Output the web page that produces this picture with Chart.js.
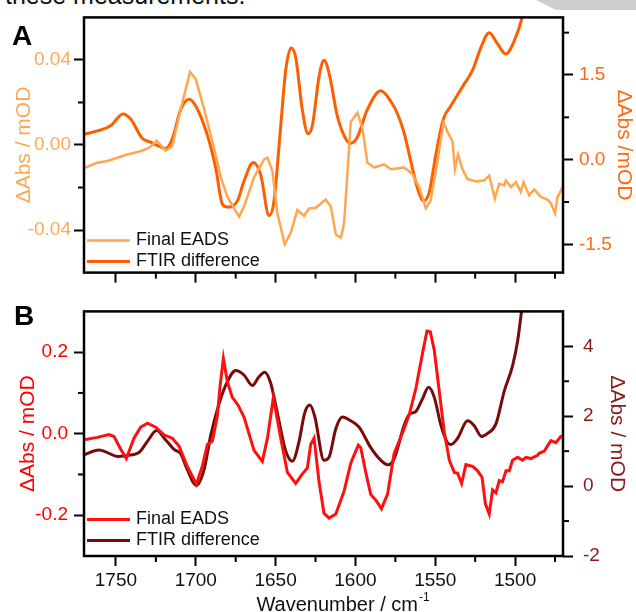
<!DOCTYPE html>
<html>
<head>
<meta charset="utf-8">
<script src="https://cdn.jsdelivr.net/npm/chart.js@4.4.1/dist/chart.umd.min.js"></script>
<style>
  html, body { margin: 0; padding: 0; background: #fff; overflow: hidden; }
  body { width: 636px; height: 612px; position: relative; font-family: "Liberation Sans", Arial, sans-serif; }
  #chartA { position: absolute; left: 0; top: 0; }
  #chartB { position: absolute; left: 0; top: 290px; }
  .cut { position: absolute; left: 5px; top: -17px; font-size: 25px; line-height: 24px; color: #111; white-space: nowrap; }
  .corner { position: absolute; right: 0; top: 0; width: 100px; height: 10px; background: #cfcfcf;
            clip-path: polygon(0 0, 100% 0, 100% 100%, 20% 100%); }
</style>
</head>
<body>
<div class="cut">these measurements.</div>
<div class="corner"></div>
<canvas id="chartA" width="636" height="290"></canvas>
<canvas id="chartB" width="636" height="322"></canvas>
<script>
// Painel A - Final EADS (eixo esquerdo, mOD)
const aEadsWn = [1770, 1761.7, 1755.4, 1749.1, 1742.9, 1734.5, 1729.3, 1724.5, 1718.8, 1714.7, 1709.4, 1703.6, 1700.0,
  1694.8, 1689.6, 1684.3, 1680.2, 1672.9, 1669.8, 1663.5, 1657.2, 1655.1, 1652.0, 1648.9, 1644.3, 1640.5, 1636.4,
  1632.2, 1629.0, 1624.9, 1618.6, 1615.4, 1612.3, 1609.1, 1607.1, 1602.9, 1598.8, 1595.6, 1592.5, 1588.3, 1582.0,
  1577.8, 1569.5, 1564.3, 1560.1, 1555.9, 1552.8, 1548.6, 1544.9, 1542.4, 1539.2, 1537.7, 1535.7, 1533.0, 1529.8,
  1524.6, 1519.4, 1516.2, 1512.7, 1510.0, 1506.8, 1505.8, 1502.6, 1499.5, 1496.4, 1494.7, 1491.2, 1488.0, 1483.8,
  1479.7, 1477.6, 1475.0, 1473.4, 1469.6];
const aEadsVal = [-0.0109, -0.0083, -0.0075, -0.0060, -0.0045, -0.0029, -0.0014, 0.0020, -0.0026, -0.0006, 0.0170, 0.0343, 0.0310,
  0.0170, 0.0017, -0.0152, -0.0244, -0.0337, -0.0290, -0.0152, -0.0068, -0.0060, -0.0121, -0.0321, -0.0467, -0.0413, -0.0306,
  -0.0333, -0.0298, -0.0295, -0.0257, -0.0290, -0.0421, -0.0436, -0.0367, 0.0109, 0.0152, 0.0078, -0.0083, -0.0106, -0.0091,
  -0.0114, -0.0106, -0.0137, -0.0198, -0.0298, -0.0260, -0.0075, 0.0106, 0.0063, 0.0017, -0.0114, -0.0045, -0.0114, -0.0160,
  -0.0171, -0.0167, -0.0144, -0.0252, -0.0183, -0.0190, -0.0167, -0.0198, -0.0175, -0.0221, -0.0175, -0.0236, -0.0210, -0.0244,
  -0.0257, -0.0275, -0.0321, -0.0244, -0.0190];

// Painel A - FTIR difference (eixo direito, mOD)
const aFtirWn = [1770, 1761.7, 1753.3, 1745.6, 1740.8, 1733.5, 1728.3, 1723.1, 1718.8, 1714.7, 1709.4, 1704.2, 1700.0,
  1692.7, 1687.5, 1683.3, 1680.2, 1673.9, 1669.8, 1664.0, 1659.3, 1654.1, 1651.0, 1646.8, 1643.7, 1640.2, 1637.4,
  1633.3, 1629.7, 1627.0, 1622.8, 1619.7, 1616.5, 1611.3, 1606.1, 1602.9, 1598.8, 1592.5, 1584.1, 1577.8, 1573.5,
  1569.5, 1565.3, 1561.2, 1557.4, 1553.8, 1549.7, 1544.9, 1540.3, 1533.0, 1526.7, 1521.4, 1516.2, 1511.0, 1505.8,
  1500.6, 1495.4, 1493.0];
const aFtirVal = [0.45, 0.51, 0.60, 0.81, 0.72, 0.38, 0.31, 0.24, 0.20, 0.37, 0.89, 1.07, 0.95,
  0.43, -0.15, -0.79, -0.84, -0.73, -0.38, -0.05, -0.27, -0.99, -0.73, 0.60, 1.58, 1.98, 1.81,
  0.89, 0.46, 0.60, 1.47, 1.76, 1.53, 0.77, 0.37, 0.29, 0.40, 0.89, 1.22, 1.03, 0.80,
  0.47, -0.03, -0.50, -0.73, -0.58, 0.08, 0.72, 0.95, 1.29, 1.58, 1.99, 2.25, 2.05, 1.87,
  2.10, 2.54, 2.90];

// Painel B - Final EADS (eixo esquerdo, mOD)
const bEadsWn = [1770, 1761.7, 1754.3, 1751.2, 1747.0, 1743.5, 1738.7, 1734.5, 1730.3, 1725.1, 1719.9, 1714.7, 1710.5,
  1705.3, 1699.6, 1695.9, 1692.7, 1689.6, 1686.5, 1684.8, 1682.7, 1680.2, 1677.1, 1673.5, 1669.8, 1663.5, 1658.3,
  1655.1, 1651.4, 1646.8, 1642.6, 1637.4, 1633.3, 1630.1, 1628.0, 1625.9, 1622.8, 1619.7, 1616.5, 1612.3, 1607.1,
  1602.9, 1598.2, 1596.7, 1593.5, 1590.4, 1587.2, 1583.7, 1579.9, 1575.8, 1569.5, 1566.3, 1562.1, 1558.0, 1555.2,
  1553.1, 1550.6, 1547.5, 1544.4, 1541.2, 1538.1, 1536.0, 1533.5, 1530.8, 1526.6, 1523.5, 1520.7, 1518.6, 1516.2,
  1514.1, 1512.0, 1509.9, 1507.9, 1505.7, 1503.6, 1501.6, 1498.4, 1495.3, 1493.2, 1490.1, 1486.0, 1485.0, 1481.8,
  1477.6, 1474.5, 1471.4, 1469.7];
const bEadsVal = [-0.015, -0.009, -0.002, -0.007, -0.038, -0.061, -0.011, 0.016, 0.026, 0.016, -0.003, -0.011, -0.030,
  -0.080, -0.124, -0.080, -0.026, -0.018, 0.043, 0.116, 0.185, 0.127, 0.089, 0.070, 0.041, -0.041, -0.068,
  -0.011, 0.089, -0.011, -0.095, -0.122, -0.099, -0.084, -0.026, -0.011, -0.118, -0.195, -0.207, -0.197, -0.141,
  -0.072, -0.028, -0.034, -0.095, -0.149, -0.163, -0.184, -0.149, -0.049, 0.012, 0.047, 0.112, 0.197, 0.252,
  0.250, 0.204, 0.104, 0.005, -0.065, -0.095, -0.097, -0.122, -0.076, -0.080, -0.091, -0.107, -0.172, -0.197,
  -0.138, -0.145, -0.115, -0.118, -0.091, -0.091, -0.065, -0.058, -0.065, -0.058, -0.061, -0.053, -0.048, -0.043,
  -0.017, -0.022, -0.007, -0.007];

// Painel B - FTIR difference (eixo direito, mOD)
const bFtirWn = [1770, 1760.6, 1755.4, 1749.1, 1742.9, 1735.6, 1730.3, 1724.5, 1718.8, 1713.6, 1709.4, 1705.3, 1699.6,
  1694.8, 1690.6, 1685.4, 1680.2, 1675.0, 1669.8, 1664.6, 1660.4, 1656.8, 1653.1, 1648.9, 1643.7, 1639.5, 1635.3,
  1631.8, 1628.6, 1625.5, 1619.7, 1616.5, 1612.3, 1608.2, 1602.9, 1597.7, 1590.4, 1584.1, 1579.6, 1575.8, 1569.5,
  1566.3, 1562.1, 1558.0, 1554.2, 1550.6, 1546.4, 1542.3, 1540.2, 1536.0, 1529.8, 1525.6, 1521.0, 1517.2, 1512.0,
  1506.8, 1501.6, 1498.4, 1495.9, 1494.0];
const bFtirVal = [0.90, 1.03, 0.96, 0.85, 0.88, 0.96, 1.28, 1.59, 1.32, 1.05, 0.92, 0.47, 0.02,
  0.47, 1.46, 2.36, 2.99, 3.31, 3.18, 2.88, 3.13, 3.26, 2.95, 2.09, 1.01, 0.71, 1.28,
  2.09, 2.32, 2.00, 0.74, 0.83, 1.64, 1.98, 1.87, 1.69, 1.10, 0.74, 0.61, 0.78, 1.74,
  2.05, 2.14, 2.50, 2.83, 2.54, 1.73, 1.24, 1.19, 1.37, 1.87, 1.73, 1.42, 1.51, 1.78,
  2.72, 3.44, 4.16, 5.02, 5.60];

// Marcas dos eixos
const xMajor = [1750, 1700, 1650, 1600, 1550, 1500];
const xMinor = [1725, 1675, 1625, 1575, 1525, 1475];
const aLeftMajor = [-0.04, 0, 0.04];
const aLeftMinor = [-0.02, 0.02];
const aRightMajor = [-1.5, 0, 1.5];
const aRightMinor = [-0.75, 0.75, 2.25];
const bLeftMajor = [-0.2, 0, 0.2];
const bLeftMinor = [-0.1, 0.1];
const bRightMajor = [-2, 0, 2, 4];
const bRightMinor = [-1, 1, 3];

const FONT = '"Liberation Sans", Arial, sans-serif';

function pts(wn, val) {
    return wn.map((w, i) => ({ x: w, y: val[i] }));
}

// Moldura, marcas menores, legenda e letra do painel
const panelDecor = {
    id: 'panelDecor',
    afterDraw(chart, args, opts) {
        const ctx = chart.ctx;
        const a = chart.chartArea;
        ctx.save();
        ctx.strokeStyle = '#000';
        ctx.lineWidth = 2;
        opts.minor.forEach(m => {
            const s = chart.scales[m.axis];
            m.values.forEach(v => {
                const p = s.getPixelForValue(v);
                ctx.beginPath();
                if (m.axis === 'x') { ctx.moveTo(p, a.bottom); ctx.lineTo(p, a.bottom + 6); }
                else if (s.position === 'left') { ctx.moveTo(a.left, p); ctx.lineTo(a.left - 6, p); }
                else { ctx.moveTo(a.right, p); ctx.lineTo(a.right + 6, p); }
                ctx.stroke();
            });
        });
        ctx.lineWidth = 2.5;
        ctx.strokeRect(a.left, a.top, a.right - a.left, a.bottom - a.top);

        ctx.fillStyle = '#000';
        ctx.font = 'bold 28px ' + FONT;
        ctx.textAlign = 'left';
        ctx.textBaseline = 'alphabetic';
        ctx.fillText(opts.letter, opts.letterX, opts.letterY);

        ctx.font = '18px ' + FONT;
        ctx.textBaseline = 'middle';
        chart.data.datasets.forEach((ds, i) => {
            const y = opts.legendY + i * 21;
            ctx.strokeStyle = ds.borderColor;
            ctx.lineWidth = ds.borderWidth;
            ctx.beginPath();
            ctx.moveTo(87, y);
            ctx.lineTo(130, y);
            ctx.stroke();
            ctx.fillStyle = '#111';
            ctx.fillText(ds.label, 136, y);
        });

        if (opts.xTitle) {
            ctx.fillStyle = '#111';
            ctx.textBaseline = 'alphabetic';
            ctx.font = '20px ' + FONT;
            const w = ctx.measureText(opts.xTitle).width;
            ctx.font = '12px ' + FONT;
            const ws = ctx.measureText('-1').width;
            const x0 = opts.xTitleCenter - (w + ws + 1) / 2;
            ctx.font = '20px ' + FONT;
            ctx.fillText(opts.xTitle, x0, opts.xTitleY);
            ctx.font = '12px ' + FONT;
            ctx.fillText('-1', x0 + w + 1, opts.xTitleY - 10);
        }
        ctx.restore();
    }
};

function yAxis(pos, min, max, major, color, title, fmt, tickPad, titlePad, width) {
    return {
        type: 'linear',
        position: pos,
        min: min,
        max: max,
        afterBuildTicks: s => { s.ticks = major.map(v => ({ value: v })); },
        afterFit: s => { s.width = width; },
        ticks: { color: color, font: { family: FONT, size: 19 }, padding: tickPad, callback: fmt },
        grid: { drawOnChartArea: false, drawTicks: true, tickLength: 10, tickWidth: 2, tickColor: '#000', color: '#000' },
        border: { display: false },
        title: { display: true, text: title, color: color, font: { family: FONT, size: 21 }, padding: { top: titlePad, bottom: 0 } }
    };
}

function xAxis(showLabels, height) {
    return {
        type: 'linear',
        reverse: true,
        min: 1470,
        max: 1770,
        afterBuildTicks: s => { s.ticks = xMajor.map(v => ({ value: v })); },
        afterFit: s => { s.height = height; },
        ticks: { display: showLabels, color: '#111', font: { family: FONT, size: 19 }, padding: 3, callback: v => String(v) },
        grid: { drawOnChartArea: false, drawTicks: true, tickLength: 10, tickWidth: 2, tickColor: '#000', color: '#000' },
        border: { display: false }
    };
}

const configA = {
    type: 'line',
    data: {
        datasets: [
            { label: 'Final EADS', data: pts(aEadsWn, aEadsVal), yAxisID: 'yL', borderColor: '#FFA64F', borderWidth: 2.5, pointRadius: 0, tension: 0 },
            { label: 'FTIR difference', data: pts(aFtirWn, aFtirVal), yAxisID: 'yR', borderColor: '#FF5E00', borderWidth: 3, pointRadius: 0, cubicInterpolationMode: 'monotone' }
        ]
    },
    options: {
        responsive: false,
        animation: false,
        layout: { padding: { top: 16, left: 0, right: 0, bottom: 0 } },
        plugins: {
            legend: { display: false },
            tooltip: { enabled: false },
            panelDecor: {
                letter: 'A', letterX: 12, letterY: 45, legendY: 240.5,
                minor: [{ axis: 'x', values: xMinor }, { axis: 'yL', values: aLeftMinor }, { axis: 'yR', values: aRightMinor }]
            }
        },
        scales: {
            x: xAxis(false, 13),
            yL: yAxis('left', -0.06, 0.06, aLeftMajor, '#FFA852', 'ΔAbs / mOD', v => v.toFixed(2), 3, 12, 84),
            yR: yAxis('right', -2.0, 2.52, aRightMajor, '#FF6A13', 'ΔAbs /mOD', v => v.toFixed(1), 6, 0, 73)
        }
    },
    plugins: [panelDecor]
};

const configB = {
    type: 'line',
    data: {
        datasets: [
            { label: 'Final EADS', data: pts(bEadsWn, bEadsVal), yAxisID: 'yL', borderColor: '#FF1010', borderWidth: 3, pointRadius: 0, tension: 0 },
            { label: 'FTIR difference', data: pts(bFtirWn, bFtirVal), yAxisID: 'yR', borderColor: '#780A0A', borderWidth: 3, pointRadius: 0, cubicInterpolationMode: 'monotone' }
        ]
    },
    options: {
        responsive: false,
        animation: false,
        layout: { padding: { top: 5, left: 0, right: 0, bottom: 0 } },
        plugins: {
            legend: { display: false },
            tooltip: { enabled: false },
            panelDecor: {
                letter: 'B', letterX: 14, letterY: 35, legendY: 229.5,
                xTitle: 'Wavenumber / cm', xTitleCenter: 343, xTitleY: 321,
                minor: [{ axis: 'x', values: xMinor }, { axis: 'yL', values: bLeftMinor }, { axis: 'yR', values: bRightMinor }]
            }
        },
        scales: {
            x: xAxis(true, 56),
            yL: yAxis('left', -0.3, 0.3, bLeftMajor, '#FF0000', 'ΔAbs / mOD', v => v.toFixed(1), 6, 16, 84),
            yR: yAxis('right', -2, 5, bRightMajor, '#8B1A1A', 'ΔAbs / mOD', v => String(v), 10, 7, 73)
        }
    },
    plugins: [panelDecor]
};

new Chart(document.getElementById('chartA'), configA);
new Chart(document.getElementById('chartB'), configB);
</script>
</body>
</html>
